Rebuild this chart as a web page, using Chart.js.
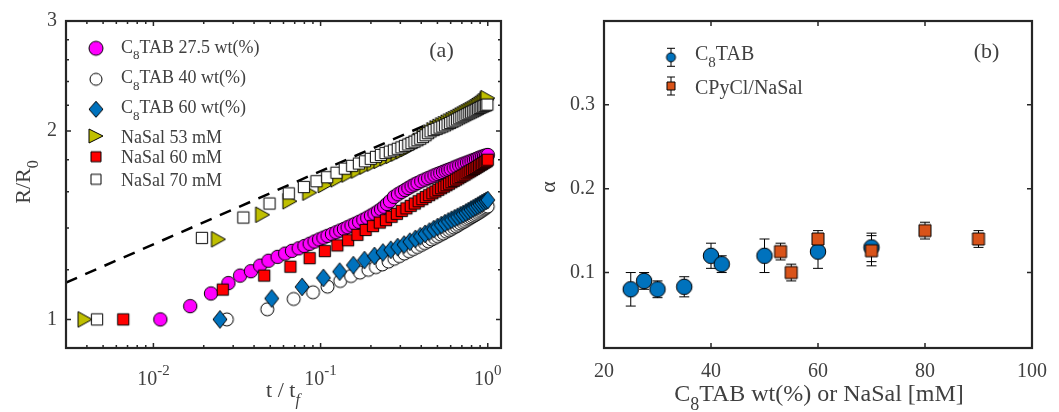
<!DOCTYPE html>
<html>
<head>
<meta charset="utf-8">
<script src="https://cdn.jsdelivr.net/npm/chart.js@4.4.0/dist/chart.umd.min.js"></script>
<style>
    html, body { margin: 0; padding: 0; background: #fff; }
    body { width: 1059px; height: 412px; position: relative; overflow: hidden; }
    .panel { position: absolute; top: 0; height: 412px; }
    #panelA { left: 0; width: 530px; }
    #panelB { left: 530px; width: 529px; }
</style>
</head>
<body>
<div class="panel" id="panelA"><canvas id="chartA"></canvas></div>
<div class="panel" id="panelB"><canvas id="chartB"></canvas></div>
<script>
// ---- panel (a): R/R0 against t/tf ----
const tMag = [0.011, 0.0166, 0.0221, 0.0281, 0.033, 0.0383, 0.0435, 0.0488, 0.0553, 0.0614, 0.0674, 0.0739, 0.08, 0.086, 0.092, 0.098, 0.104, 0.11, 0.117, 0.124, 0.131, 0.138, 0.145, 0.153, 0.161, 0.17, 0.18, 0.19, 0.2, 0.21, 0.22, 0.23, 0.24, 0.25, 0.26, 0.275, 0.29, 0.305, 0.32, 0.335, 0.35, 0.365, 0.38, 0.4, 0.42, 0.44, 0.46, 0.48, 0.5, 0.52, 0.54, 0.56, 0.58, 0.6, 0.625, 0.65, 0.675, 0.7, 0.725, 0.75, 0.775, 0.8, 0.825, 0.85, 0.875, 0.9, 0.925, 0.95, 0.975, 1.0];
const rMag = [1.0, 1.05, 1.10, 1.143, 1.175, 1.194, 1.219, 1.241, 1.259, 1.274, 1.287, 1.299, 1.31, 1.321, 1.332, 1.342, 1.351, 1.36, 1.369, 1.378, 1.387, 1.395, 1.404, 1.413, 1.422, 1.432, 1.443, 1.454, 1.465, 1.476, 1.488, 1.5, 1.514, 1.53, 1.545, 1.57, 1.585, 1.598, 1.61, 1.622, 1.633, 1.643, 1.652, 1.663, 1.673, 1.682, 1.691, 1.699, 1.707, 1.714, 1.721, 1.728, 1.734, 1.74, 1.748, 1.755, 1.762, 1.769, 1.775, 1.781, 1.787, 1.793, 1.799, 1.804, 1.81, 1.815, 1.82, 1.824, 1.828, 1.832];

const tC40 = [0.0275, 0.048, 0.069, 0.09, 0.11, 0.131, 0.152, 0.172, 0.193, 0.214, 0.234, 0.255, 0.276, 0.296, 0.317, 0.338, 0.358, 0.379, 0.4, 0.42, 0.441, 0.462, 0.482, 0.503, 0.524, 0.544, 0.565, 0.586, 0.606, 0.627, 0.648, 0.668, 0.689, 0.71, 0.73, 0.751, 0.772, 0.792, 0.813, 0.834, 0.854, 0.875, 0.896, 0.916, 0.937, 0.958, 0.978, 0.999];
const rC40 = [1.0, 1.038, 1.078, 1.105, 1.128, 1.152, 1.173, 1.188, 1.2, 1.212, 1.224, 1.237, 1.25, 1.262, 1.274, 1.285, 1.295, 1.305, 1.315, 1.324, 1.333, 1.342, 1.35, 1.358, 1.366, 1.373, 1.381, 1.388, 1.395, 1.402, 1.409, 1.416, 1.423, 1.43, 1.436, 1.443, 1.449, 1.455, 1.461, 1.467, 1.473, 1.479, 1.485, 1.491, 1.497, 1.503, 1.509, 1.515];

const tC60 = [0.025, 0.051, 0.0775, 0.104, 0.13, 0.157, 0.183, 0.21, 0.236, 0.263, 0.289, 0.316, 0.342, 0.369, 0.395, 0.422, 0.448, 0.475, 0.501, 0.528, 0.554, 0.581, 0.607, 0.634, 0.66, 0.687, 0.713, 0.74, 0.766, 0.793, 0.819, 0.846, 0.872, 0.899, 0.925, 0.952, 0.978, 1.0];
const rC60 = [1.0, 1.08, 1.127, 1.165, 1.192, 1.221, 1.244, 1.263, 1.279, 1.292, 1.305, 1.317, 1.331, 1.345, 1.358, 1.37, 1.382, 1.394, 1.405, 1.415, 1.425, 1.434, 1.443, 1.451, 1.459, 1.467, 1.474, 1.482, 1.49, 1.498, 1.505, 1.513, 1.52, 1.527, 1.534, 1.541, 1.547, 1.552];

const tNa53 = [0.0039, 0.0245, 0.045, 0.0655, 0.086, 0.1065, 0.127, 0.1475, 0.168, 0.1885, 0.209, 0.2295, 0.25, 0.2705, 0.291, 0.3115, 0.332, 0.3525, 0.373, 0.3935, 0.414, 0.4345, 0.455, 0.4755, 0.496, 0.5165, 0.537, 0.5575, 0.578, 0.5985, 0.619, 0.6395, 0.66, 0.6805, 0.701, 0.7215, 0.742, 0.7625, 0.783, 0.8035, 0.824, 0.8445, 0.865, 0.8855, 0.906, 0.9265, 0.947, 0.9675, 0.988, 1.0];
const rNa53 = [1.0, 1.343, 1.47, 1.545, 1.595, 1.64, 1.675, 1.705, 1.73, 1.755, 1.775, 1.793, 1.81, 1.826, 1.842, 1.858, 1.874, 1.891, 1.91, 1.93, 1.952, 1.972, 1.99, 2.006, 2.02, 2.032, 2.043, 2.053, 2.063, 2.073, 2.082, 2.091, 2.1, 2.109, 2.118, 2.127, 2.136, 2.144, 2.152, 2.16, 2.168, 2.176, 2.185, 2.194, 2.203, 2.212, 2.222, 2.233, 2.247, 2.258];

const tNa60 = [0.0066, 0.026, 0.046, 0.066, 0.086, 0.106, 0.126, 0.146, 0.166, 0.186, 0.206, 0.226, 0.246, 0.266, 0.286, 0.306, 0.326, 0.346, 0.366, 0.386, 0.406, 0.426, 0.446, 0.466, 0.486, 0.506, 0.526, 0.546, 0.566, 0.586, 0.606, 0.626, 0.646, 0.666, 0.686, 0.706, 0.726, 0.746, 0.766, 0.786, 0.806, 0.826, 0.846, 0.866, 0.886, 0.906, 0.926, 0.946, 0.966, 0.986, 1.0];
const rNa60 = [1.0, 1.116, 1.175, 1.214, 1.253, 1.286, 1.313, 1.338, 1.365, 1.39, 1.41, 1.428, 1.441, 1.459, 1.475, 1.491, 1.505, 1.519, 1.532, 1.545, 1.557, 1.569, 1.58, 1.591, 1.601, 1.611, 1.621, 1.63, 1.639, 1.648, 1.657, 1.665, 1.673, 1.681, 1.689, 1.697, 1.704, 1.712, 1.719, 1.726, 1.733, 1.74, 1.746, 1.753, 1.76, 1.766, 1.772, 1.779, 1.785, 1.791, 1.8];

const tNa70 = [0.0046, 0.0195, 0.0345, 0.0495, 0.0645, 0.0795, 0.0945, 0.1095, 0.1245, 0.1395, 0.1545, 0.1695, 0.1845, 0.1995, 0.2145, 0.2295, 0.2445, 0.2595, 0.2745, 0.2895, 0.3045, 0.3195, 0.3345, 0.3495, 0.3645, 0.3795, 0.3945, 0.4095, 0.4245, 0.4395, 0.4545, 0.4745, 0.4945, 0.5145, 0.5345, 0.5545, 0.5745, 0.5945, 0.6145, 0.6345, 0.6545, 0.6745, 0.6945, 0.7145, 0.7345, 0.7545, 0.7745, 0.7945, 0.8145, 0.8345, 0.8545, 0.8745, 0.8945, 0.9145, 0.9345, 0.9545, 0.9745, 0.9945];
const rNa70 = [1.0, 1.35, 1.455, 1.532, 1.59, 1.628, 1.663, 1.688, 1.716, 1.742, 1.76, 1.775, 1.79, 1.806, 1.819, 1.832, 1.845, 1.855, 1.864, 1.874, 1.884, 1.894, 1.904, 1.914, 1.924, 1.934, 1.945, 1.957, 1.97, 1.985, 1.998, 2.008, 2.017, 2.026, 2.034, 2.043, 2.052, 2.061, 2.07, 2.079, 2.088, 2.097, 2.105, 2.113, 2.121, 2.129, 2.136, 2.143, 2.15, 2.157, 2.164, 2.171, 2.178, 2.184, 2.19, 2.195, 2.2, 2.205];

// dashed guide line
const tFit = [0.003, 1.0];
const rFit = [1.145, 2.26];

const xMajorA = [0.01, 0.1, 1];
const xMinorA = [0.003, 0.004, 0.005, 0.006, 0.007, 0.008, 0.009, 0.02, 0.03, 0.04, 0.05, 0.06, 0.07, 0.08, 0.09, 0.2, 0.3, 0.4, 0.5, 0.6, 0.7, 0.8, 0.9];
const xExpA = ['-2', '-1', '0'];
const yMajorA = [1, 2, 3];
const yMinorA = [1.2, 1.4, 1.6, 1.8, 2.2, 2.4, 2.6, 2.8];

const legendA = ['TAB 27.5 wt(%)', 'TAB 40 wt(%)', 'TAB 60 wt(%)', 'NaSal 53 mM', 'NaSal 60 mM', 'NaSal 70 mM'];

// ---- panel (b): alpha against concentration ----
const xC8 = [25, 27.5, 30, 35, 40, 42, 50, 60, 70];
const aC8 = [0.08, 0.09, 0.08, 0.083, 0.12, 0.11, 0.12, 0.125, 0.13];
const eC8 = [0.02, 0.01, 0.01, 0.012, 0.015, 0.01, 0.02, 0.02, 0.017];
const xCPy = [53, 55, 60, 70, 80, 90];
const aCPy = [0.125, 0.1, 0.14, 0.126, 0.15, 0.14];
const eCPy = [0.01, 0.01, 0.01, 0.018, 0.01, 0.01];
const xTicksB = [20, 40, 60, 80, 100];
const yTicksB = [0.1, 0.2, 0.3];

const FONT = '"Liberation Serif", "Times New Roman", serif';
const TEXT = '#404040';
const AXIS = '#262626';

function toPoints(xs, ys) {
    const n = Math.min(xs.length, ys.length);
    const out = [];
    for (let i = 0; i < n; i++) out.push({ x: xs[i], y: ys[i] });
    return out;
}

function makeMarker(shape, w, h, fill) {
    const c = document.createElement('canvas');
    c.width = Math.ceil(w) + 4;
    c.height = Math.ceil(h) + 4;
    const ctx = c.getContext('2d');
    const cx = c.width / 2;
    const cy = c.height / 2;
    ctx.beginPath();
    if (shape === 'circle') {
        ctx.ellipse(cx, cy, w / 2, h / 2, 0, 0, Math.PI * 2);
    } else if (shape === 'square') {
        ctx.rect(cx - w / 2, cy - h / 2, w, h);
    } else if (shape === 'diamond') {
        ctx.moveTo(cx, cy - h / 2);
        ctx.lineTo(cx + w / 2, cy);
        ctx.lineTo(cx, cy + h / 2);
        ctx.lineTo(cx - w / 2, cy);
        ctx.closePath();
    } else if (shape === 'triangle') {
        ctx.moveTo(cx - w / 2, cy - h / 2);
        ctx.lineTo(cx + w / 2, cy);
        ctx.lineTo(cx - w / 2, cy + h / 2);
        ctx.closePath();
    }
    ctx.fillStyle = fill;
    ctx.fill();
    ctx.lineWidth = 1;
    ctx.strokeStyle = '#000';
    ctx.stroke();
    return c;
}

const mk = {
    mag: makeMarker('circle', 13.4, 13.4, '#ff00ff'),
    c40: makeMarker('circle', 13, 13, '#ffffff'),
    c60: makeMarker('diamond', 14, 17.6, '#0072bd'),
    na53: makeMarker('triangle', 14, 15.6, '#bfbf00'),
    na60: makeMarker('square', 11.3, 11.3, '#ff0000'),
    na70: makeMarker('square', 11.3, 11.3, '#ffffff'),
    bC8: makeMarker('circle', 15.5, 15.5, '#0072bd'),
    bCPy: makeMarker('square', 12, 12, '#d95319')
};
const legMk = [
    makeMarker('circle', 14, 14, '#ff00ff'),
    makeMarker('circle', 12, 12, '#ffffff'),
    makeMarker('diamond', 14, 16, '#0072bd'),
    makeMarker('triangle', 14, 14, '#bfbf00'),
    makeMarker('square', 10, 10, '#ff0000'),
    makeMarker('square', 10, 10, '#ffffff')
];
const legMkB = [makeMarker('circle', 9, 9, '#0072bd'), makeMarker('square', 8, 8, '#d95319')];

// parts: [text, kind] with kind 0 normal, 1 subscript, 2 superscript, 3 italic subscript
function drawRich(ctx, parts, x, y, size, align) {
    const fontFor = (p) => {
        const s = p[1] === 0 ? size : Math.round(size * 0.74);
        return (p[1] === 3 ? 'italic ' : '') + s + 'px ' + FONT;
    };
    const widths = parts.map((p) => { ctx.font = fontFor(p); return ctx.measureText(p[0]).width; });
    const total = widths.reduce((a, b) => a + b, 0);
    let cx = align === 'center' ? x - total / 2 : (align === 'right' ? x - total : x);
    ctx.textAlign = 'left';
    ctx.textBaseline = 'alphabetic';
    parts.forEach((p, i) => {
        ctx.font = fontFor(p);
        let dy = 0;
        if (p[1] === 1 || p[1] === 3) dy = size * 0.36;
        if (p[1] === 2) dy = -size * 0.5;
        ctx.fillText(p[0], cx, y + dy);
        cx += widths[i];
    });
}

function drawBox(chart) {
    const a = chart.chartArea;
    const ctx = chart.ctx;
    ctx.save();
    ctx.strokeStyle = AXIS;
    ctx.lineWidth = 2.2;
    ctx.strokeRect(a.left, a.top, a.right - a.left, a.bottom - a.top);
    ctx.restore();
}

function drawTicks(chart, axis, values, len) {
    const a = chart.chartArea;
    const ctx = chart.ctx;
    const scale = chart.scales[axis];
    ctx.save();
    ctx.strokeStyle = AXIS;
    ctx.lineWidth = 1.5;
    ctx.beginPath();
    values.forEach((v) => {
        const p = scale.getPixelForValue(v);
        if (axis === 'x') {
            ctx.moveTo(p, a.bottom); ctx.lineTo(p, a.bottom - len);
            ctx.moveTo(p, a.top); ctx.lineTo(p, a.top + len);
        } else {
            ctx.moveTo(a.left, p); ctx.lineTo(a.left + len, p);
            ctx.moveTo(a.right, p); ctx.lineTo(a.right - len, p);
        }
    });
    ctx.stroke();
    ctx.restore();
}

function drawErrorBars(chart, xs, ys, es) {
    const ctx = chart.ctx;
    const sx = chart.scales.x;
    const sy = chart.scales.y;
    ctx.save();
    ctx.strokeStyle = '#000';
    ctx.lineWidth = 1;
    ctx.beginPath();
    xs.forEach((xv, i) => {
        const px = sx.getPixelForValue(xv);
        const top = sy.getPixelForValue(ys[i] + es[i]);
        const bot = sy.getPixelForValue(ys[i] - es[i]);
        ctx.moveTo(px, top); ctx.lineTo(px, bot);
        ctx.moveTo(px - 5, top); ctx.lineTo(px + 5, top);
        ctx.moveTo(px - 5, bot); ctx.lineTo(px + 5, bot);
    });
    ctx.stroke();
    ctx.restore();
}

const decorA = {
    id: 'decorA',
    afterDraw(chart) {
        const ctx = chart.ctx;
        drawBox(chart);
        drawTicks(chart, 'x', xMajorA, 5);
        drawTicks(chart, 'x', xMinorA, 3);
        drawTicks(chart, 'y', yMajorA, 5);
        drawTicks(chart, 'y', yMinorA, 3);

        ctx.save();
        ctx.fillStyle = TEXT;
        const sx = chart.scales.x;
        xMajorA.forEach((v, i) => {
            drawRich(ctx, [['10', 0], [xExpA[i], 2]], sx.getPixelForValue(v), 385, 20, 'center');
        });
        // axis titles
        drawRich(ctx, [['t / t', 0], ['f', 3]], 283, 397, 22, 'center');
        ctx.translate(30, 182);
        ctx.rotate(-Math.PI / 2);
        drawRich(ctx, [['R/R', 0], ['0', 1]], 0, 0, 22, 'center');
        ctx.restore();

        ctx.save();
        ctx.fillStyle = TEXT;
        ctx.font = '22px ' + FONT;
        ctx.textAlign = 'center';
        ctx.textBaseline = 'middle';
        ctx.fillText('(a)', 441.5, 51);

        // legend
        const rowY = [48.3, 79.3, 109.3, 136, 156.7, 179.3];
        const baseY = [52.7, 83.3, 113.3, 142.7, 163.3, 185.7];
        legendA.forEach((label, i) => {
            const m = legMk[i];
            ctx.drawImage(m, 96 - m.width / 2, rowY[i] - m.height / 2);
            const parts = i < 3 ? [['C', 0], ['8', 1], [label, 0]] : [[label, 0]];
            drawRich(ctx, parts, 121, baseY[i], 18, 'left');
        });
        ctx.restore();
    }
};

const decorB = {
    id: 'decorB',
    beforeDatasetsDraw(chart) {
        drawErrorBars(chart, xC8, aC8, eC8);
        drawErrorBars(chart, xCPy, aCPy, eCPy);
    },
    afterDraw(chart) {
        const ctx = chart.ctx;
        drawBox(chart);
        drawTicks(chart, 'x', xTicksB, 5);
        drawTicks(chart, 'y', yTicksB, 5);

        ctx.save();
        ctx.fillStyle = TEXT;
        drawRich(ctx, [['C', 0], ['8', 1], ['TAB wt(%) or NaSal [mM]', 0]], 289, 401, 24, 'center');
        ctx.translate(25, 187);
        ctx.rotate(-Math.PI / 2);
        drawRich(ctx, [['\u03b1', 0]], 0, 0, 22, 'center');
        ctx.restore();

        ctx.save();
        ctx.fillStyle = TEXT;
        ctx.font = '22px ' + FONT;
        ctx.textAlign = 'center';
        ctx.textBaseline = 'middle';
        ctx.fillText('(b)', 456.5, 52.5);

        // legend with error-bar glyphs
        const rows = [57.3, 86];
        const bases = [60, 94.3];
        const labels = [[['C', 0], ['8', 1], ['TAB', 0]], [['CPyCl/NaSal', 0]]];
        ctx.strokeStyle = '#000';
        ctx.lineWidth = 1;
        rows.forEach((y, i) => {
            const x = 141;
            ctx.beginPath();
            ctx.moveTo(x, y - 9); ctx.lineTo(x, y + 9);
            ctx.moveTo(x - 4, y - 9); ctx.lineTo(x + 4, y - 9);
            ctx.moveTo(x - 4, y + 9); ctx.lineTo(x + 4, y + 9);
            ctx.stroke();
            const m = legMkB[i];
            ctx.drawImage(m, x - m.width / 2, y - m.height / 2);
            drawRich(ctx, labels[i], 165, bases[i], 20, 'left');
        });
        ctx.restore();
    }
};

function scatterSet(label, xs, ys, marker, order) {
    return {
        type: 'scatter',
        label: label,
        data: toPoints(xs, ys),
        pointStyle: marker,
        pointRadius: 6,
        pointHoverRadius: 6,
        showLine: false,
        order: order
    };
}

function hiddenGrid() {
    return { display: false, drawTicks: false };
}

function init() {
    Chart.defaults.font.family = FONT;
    Chart.defaults.color = TEXT;

    new Chart(document.getElementById('chartA'), {
        type: 'scatter',
        data: {
            datasets: [
                {
                    type: 'line',
                    label: 'fit',
                    data: toPoints(tFit, rFit),
                    borderColor: '#000',
                    borderWidth: 2.5,
                    borderDash: [12, 9],
                    pointRadius: 0,
                    fill: false,
                    order: 10
                },
                scatterSet('C8TAB 27.5 wt(%)', tMag, rMag, mk.mag, 6),
                scatterSet('C8TAB 40 wt(%)', tC40, rC40, mk.c40, 5),
                scatterSet('C8TAB 60 wt(%)', tC60, rC60, mk.c60, 4),
                scatterSet('NaSal 53 mM', tNa53, rNa53, mk.na53, 3),
                scatterSet('NaSal 60 mM', tNa60, rNa60, mk.na60, 2),
                scatterSet('NaSal 70 mM', tNa70, rNa70, mk.na70, 1)
            ]
        },
        options: {
            responsive: true,
            maintainAspectRatio: false,
            animation: false,
            events: [],
            layout: { padding: { top: 16, right: 29, left: 0, bottom: 0 } },
            plugins: { legend: { display: false }, tooltip: { enabled: false } },
            scales: {
                x: {
                    type: 'logarithmic',
                    min: 0.003,
                    max: 1.2,
                    bounds: 'data',
                    grid: hiddenGrid(),
                    border: { display: false },
                    ticks: { display: false },
                    afterFit: (scale) => { scale.height = 64; }
                },
                y: {
                    type: 'logarithmic',
                    min: 0.9,
                    max: 3,
                    bounds: 'data',
                    grid: hiddenGrid(),
                    border: { display: false },
                    ticks: {
                        padding: 9,
                        color: TEXT,
                        font: { size: 20, family: FONT },
                        callback: (v) => String(v)
                    },
                    afterBuildTicks: (scale) => { scale.ticks = yMajorA.map((v) => ({ value: v })); },
                    afterFit: (scale) => { scale.width = 66; }
                }
            }
        },
        plugins: [decorA]
    });

    new Chart(document.getElementById('chartB'), {
        type: 'scatter',
        data: {
            datasets: [
                scatterSet('C8TAB', xC8, aC8, mk.bC8, 2),
                scatterSet('CPyCl/NaSal', xCPy, aCPy, mk.bCPy, 1)
            ]
        },
        options: {
            responsive: true,
            maintainAspectRatio: false,
            animation: false,
            events: [],
            layout: { padding: { top: 16, right: 25, left: 0, bottom: 0 } },
            plugins: { legend: { display: false }, tooltip: { enabled: false } },
            scales: {
                x: {
                    type: 'linear',
                    min: 20,
                    max: 100,
                    bounds: 'data',
                    grid: hiddenGrid(),
                    border: { display: false },
                    ticks: {
                        padding: 12,
                        color: TEXT,
                        maxRotation: 0,
                        font: { size: 20, family: FONT },
                        callback: (v) => String(v)
                    },
                    afterBuildTicks: (scale) => { scale.ticks = xTicksB.map((v) => ({ value: v })); },
                    afterFit: (scale) => { scale.height = 64; }
                },
                y: {
                    type: 'linear',
                    min: 0.01,
                    max: 0.4,
                    bounds: 'data',
                    grid: hiddenGrid(),
                    border: { display: false },
                    ticks: {
                        padding: 9,
                        color: TEXT,
                        font: { size: 20, family: FONT },
                        callback: (v) => v.toFixed(1)
                    },
                    afterBuildTicks: (scale) => { scale.ticks = yTicksB.map((v) => ({ value: v })); },
                    afterFit: (scale) => { scale.width = 74; }
                }
            }
        },
        plugins: [decorB]
    });
}

if (document.readyState === 'loading') {
    document.addEventListener('DOMContentLoaded', init);
} else {
    init();
}
</script>
</body>
</html>
